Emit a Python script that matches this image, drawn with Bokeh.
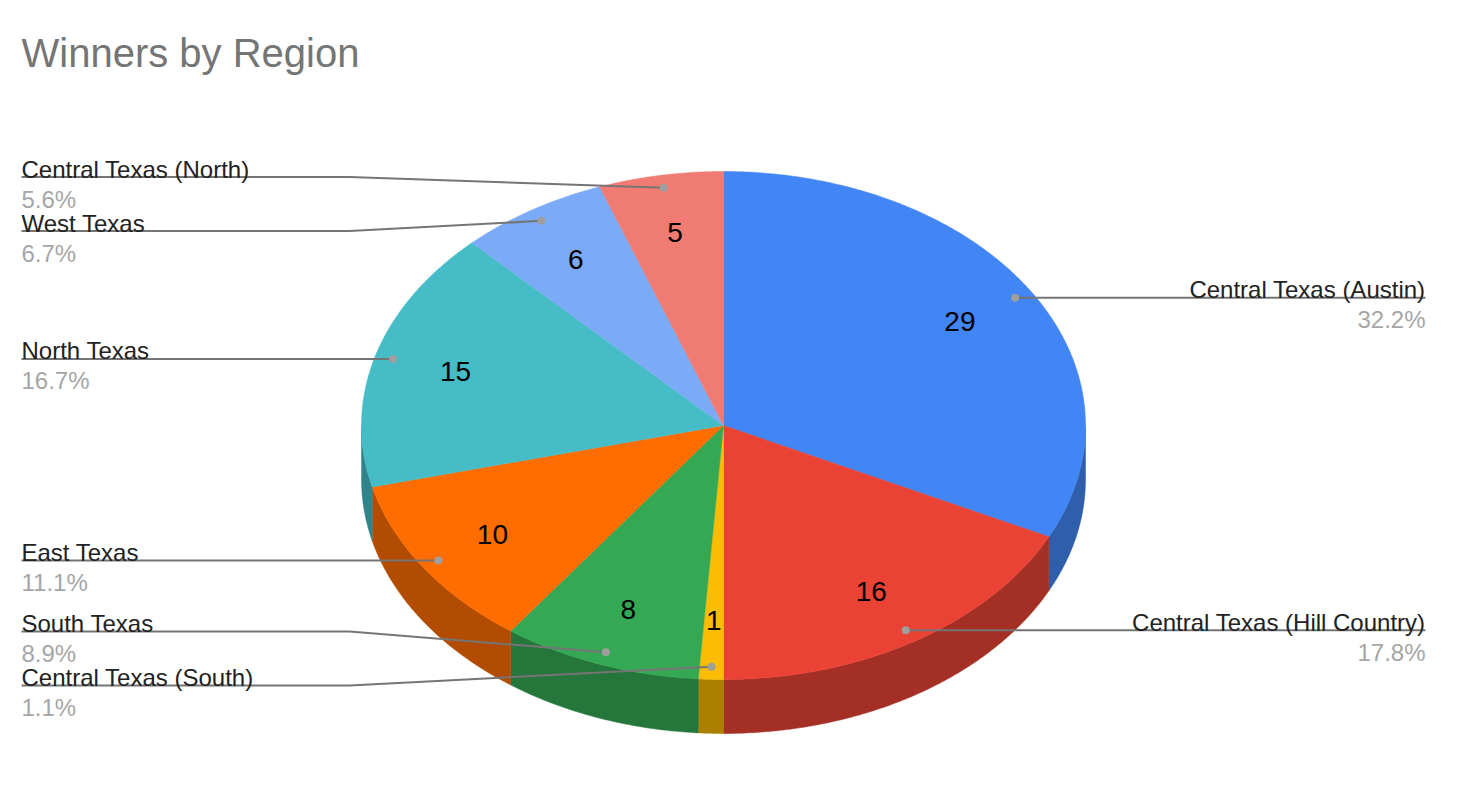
import math
from bokeh.plotting import figure
from bokeh.models import Range1d
from bokeh.core.properties import value
from bokeh.embed import file_html
from bokeh.resources import INLINE

title = "Winners by Region"
regions = ["Central Texas (Austin)", "Central Texas (Hill Country)", "Central Texas (South)",
           "South Texas", "East Texas", "North Texas", "West Texas", "Central Texas (North)"]
winners = [29, 16, 1, 8, 10, 15, 6, 5]
shares = ["32.2%", "17.8%", "1.1%", "8.9%", "11.1%", "16.7%", "6.7%", "5.6%"]

top_colors = ["#4285f4", "#ea4335", "#fbbc04", "#34a853", "#ff6d01", "#46bdc6", "#7baaf7", "#f07b72"]
side_colors = ["#2f5eab", "#a42f25", "#ab8000", "#24763a", "#b24c01", "#31848b", "#5677ad", "#a85650"]

# layout: page pixels
CX, CY, RX, RY, DEPTH = 731, 433, 362, 254, 54
FONT = value("Liberation Sans")
# y of each label's rule; None = level with its leader dot
rule_y = [None, None, 693, 639, None, None, 238.5, 184.5]
ELBOW_X = 357
LEFT_X, RIGHT_X = 29, 1433

p = figure(width=1448, height=770, output_backend="svg", toolbar_location=None,
           x_range=Range1d(8, 1456), y_range=Range1d(778, 8),
           x_axis_type=None, y_axis_type=None, min_border=0,
           outline_line_color=None, background_fill_color="white", border_fill_color="white")
p.grid.visible = False


def pt(deg, r=1.0, dy=0.0):
    a = math.radians(deg)
    return CX + r * RX * math.sin(a), CY - r * RY * math.cos(a) + dy


def arc(a0, a1, dy=0.0):
    n = max(2, int(abs(a1 - a0) * 2) + 1)
    return [pt(a0 + (a1 - a0) * i / (n - 1), 1.0, dy) for i in range(n)]


total = sum(winners)
edges = [0.0]
for v in winners:
    edges.append(edges[-1] + v / total * 360)
mids = [(edges[i] + edges[i + 1]) / 2 for i in range(len(winners))]

# rim
sx, sy, sc = [], [], []
for i in range(len(winners)):
    a0, a1 = max(edges[i], 90), min(edges[i + 1], 270)
    if a1 <= a0:
        continue
    front = arc(a0, a1)
    back = arc(a1, a0, DEPTH)
    pts = front + back
    sx.append([q[0] for q in pts])
    sy.append([q[1] for q in pts])
    sc.append(side_colors[i])
p.patches(sx, sy, fill_color=sc, line_color=sc, line_width=0.5)

# top
tx, ty = [], []
for i in range(len(winners)):
    pts = [(CX, CY)] + arc(edges[i], edges[i + 1])
    tx.append([q[0] for q in pts])
    ty.append([q[1] for q in pts])
p.patches(tx, ty, fill_color=top_colors, line_color=top_colors, line_width=0.5)

# value labels
vx, vy = zip(*[pt(m, 0.77) for m in mids])
p.text(list(vx), list(vy), text=[str(v) for v in winners], text_font=FONT, text_font_size="28px",
       text_color="#000000", text_align="center", text_baseline="middle")

# leaders and outside labels
for i, name in enumerate(regions):
    ax, ay = pt(mids[i], 0.95)
    right = mids[i] < 180
    edge_x = RIGHT_X if right else LEFT_X
    ry = rule_y[i] if rule_y[i] is not None else ay
    xs = [edge_x, ax] if rule_y[i] is None else [edge_x, ELBOW_X, ax]
    ys = [ry, ay] if rule_y[i] is None else [ry, ry, ay]
    p.line(xs, ys, line_color="#757575", line_width=2)
    p.scatter([ax], [ay], size=8, fill_color="#9e9e9e", line_color=None)
    align = "right" if right else "left"
    p.text([edge_x], [ry - 8], text=[name], text_font=FONT, text_font_size="24px",
           text_color="#222222", text_align=align, text_baseline="alphabetic")
    p.text([edge_x], [ry + 22], text=[shares[i]], text_font=FONT, text_font_size="24px",
           text_color="#a6a6a6", text_align=align, text_baseline="alphabetic")

p.text([LEFT_X], [60], text=[title], text_font=FONT, text_font_size="40px",
       text_color="#757575", text_align="left", text_baseline="alphabetic")

open("out.html", "w").write(file_html(p, INLINE))
